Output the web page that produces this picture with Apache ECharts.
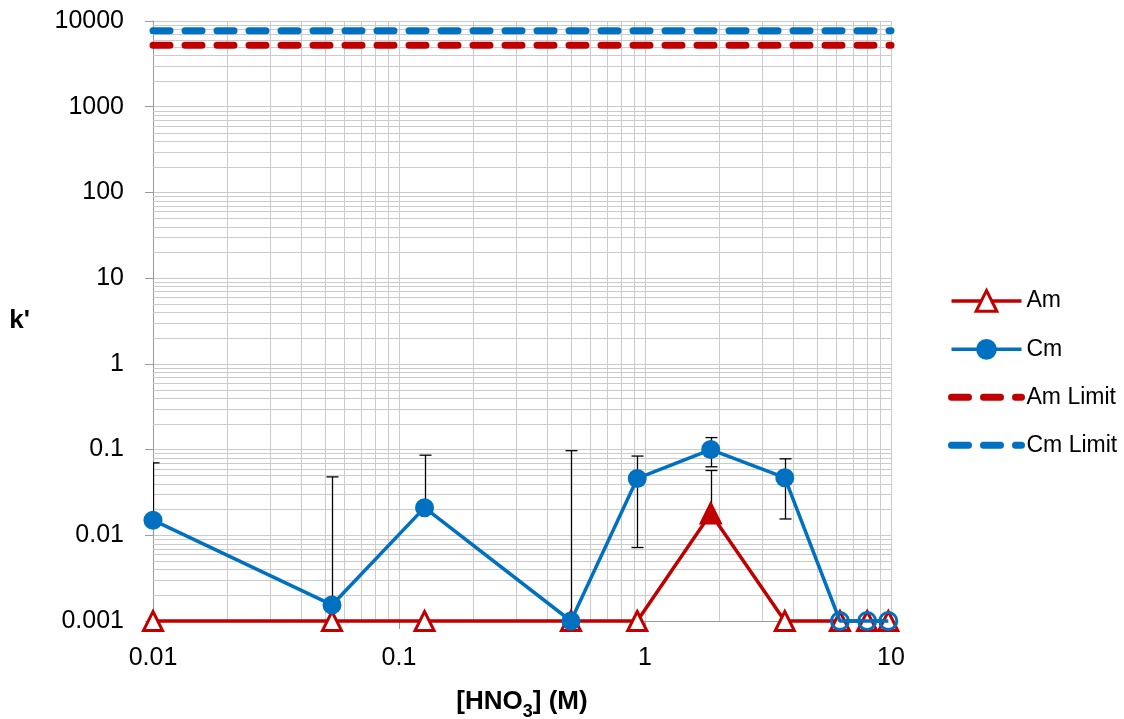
<!DOCTYPE html>
<html>
<head>
<meta charset="utf-8">
<script src="https://cdn.jsdelivr.net/npm/echarts@6/dist/echarts.min.js"></script>
<style>
  html, body { margin: 0; padding: 0; background: #fff; }
  #chart { width: 1124px; height: 719px; }
</style>
</head>
<body>
<div id="chart"></div>
<script>
// Nitric acid concentration of each measurement (M)
const hno3 = [0.01, 0.0534, 0.127, 0.5, 0.93, 1.85, 3.7, 6.2, 8.0, 9.75];
// Capacity factor k' for americium and curium
const amK = [0.001, 0.001, 0.001, 0.001, 0.001, 0.018, 0.001, 0.001, 0.001, 0.001];
const cmK = [0.015, 0.00154, 0.021, 0.001, 0.046, 0.1, 0.047, 0.001, 0.001, 0.001];
// Error bar ends (null: no bar on that side)
const amLow  = [null, null, null, null, null, null, null, null, null, null];
const amHigh = [null, null, null, null, null, 0.057, null, null, null, null];
const cmLow  = [null, null, null, null, 0.0072, 0.063, 0.0155, null, null, null];
const cmHigh = [0.070, 0.048, 0.086, 0.097, 0.084, 0.138, 0.078, null, null, null];
// Marker variants: filled Am triangle, hollow Cm circles
const amSolid  = [false, false, false, false, false, true, false, false, false, false];
const cmHollow = [false, false, false, false, false, false, false, true, true, true];
// Upper k' limits
const amLimit = 5200;
const cmLimit = 7700;
const limitSpan = [0.01, 10];
// Tick labels
const xTickLabels = ['0.01', '0.1', '1', '10'];
const yTickLabels = ['0.001', '0.01', '0.1', '1', '10', '100', '1000', '10000'];

const RED = '#C00000';
const BLUE = '#0070C0';
const FONT = '"Liberation Sans", Arial, sans-serif';
const GRID_COLOR = '#cbcbcb';
const AXIS_COLOR = '#9a9a9a';
const LINE_W = 3.5;

// Minor log gridlines at 2..9 of every decade spanned by the tick labels
function minorLines(labels) {
  const out = [];
  for (let i = 0; i < labels.length - 1; i++) {
    const base = Number(labels[i]);
    for (let m = 2; m <= 9; m++) out.push(+(base * m).toPrecision(6));
  }
  return out;
}
const xMinor = minorLines(xTickLabels);
const yMinor = minorLines(yTickLabels);

function tickText(labels) {
  return function (v) {
    const hit = labels.find(t => Math.abs(Math.log10(Number(t)) - Math.log10(v)) < 1e-6);
    return hit === undefined ? '' : hit;
  };
}

function errorData(xs, vals, lows, highs) {
  const out = [];
  xs.forEach((x, i) => {
    if (lows[i] == null && highs[i] == null) return;
    out.push([x, vals[i], lows[i] == null ? vals[i] : lows[i], highs[i] == null ? vals[i] : highs[i]]);
  });
  return out;
}

function renderErrorBar(params, api) {
  const x = api.value(0), v = api.value(1), lo = api.value(2), hi = api.value(3);
  const top = api.coord([x, hi]);
  const bot = api.coord([x, lo]);
  const cx = Math.round(top[0]) + 0.5;
  const half = 6;
  const style = { stroke: '#000', lineWidth: 1.3 };
  const children = [{ type: 'line', shape: { x1: cx, y1: top[1], x2: cx, y2: bot[1] }, style }];
  if (hi > v) children.push({ type: 'line', shape: { x1: cx - half, y1: top[1], x2: cx + half, y2: top[1] }, style });
  if (lo < v) children.push({ type: 'line', shape: { x1: cx - half, y1: bot[1], x2: cx + half, y2: bot[1] }, style });
  return { type: 'group', children };
}

function renderVLine(params, api) {
  const cs = params.coordSys;
  const p = api.coord([api.value(0), api.value(1)]);
  const x = Math.round(p[0]) + 0.5;
  return { type: 'line', shape: { x1: x, y1: cs.y, x2: x, y2: cs.y + cs.height },
           style: { stroke: GRID_COLOR, lineWidth: 1 } };
}
function renderHLine(params, api) {
  const cs = params.coordSys;
  const p = api.coord([api.value(0), api.value(1)]);
  const y = Math.round(p[1]) + 0.5;
  return { type: 'line', shape: { x1: cs.x, y1: y, x2: cs.x + cs.width, y2: y },
           style: { stroke: GRID_COLOR, lineWidth: 1 } };
}

const chart = echarts.init(document.getElementById('chart'), null, { renderer: 'canvas' });

const titleStyle = { fontFamily: FONT, fontSize: 26, fontWeight: 'bold', color: '#000' };

chart.setOption({
  animation: false,
  backgroundColor: '#fff',
  grid: { left: 153, right: 233, top: 21, bottom: 98, containLabel: false, outerBoundsMode: 'none' },
  xAxis: {
    type: 'log', logBase: 10, min: 0.01, max: 10,
    axisLine: { show: true, onZero: false, lineStyle: { color: AXIS_COLOR, width: 1 } },
    axisTick: { show: true, length: 8, lineStyle: { color: AXIS_COLOR } },
    axisLabel: { margin: 25, fontSize: 25, fontFamily: FONT, color: '#000', formatter: tickText(xTickLabels),
                 showMinLabel: true, showMaxLabel: true },
    splitLine: { show: true, lineStyle: { color: GRID_COLOR, width: 1 } },
    name: '{m|[HNO}{s|3}{m|] (M)}',
    nameLocation: 'middle',
    nameGap: 62,
    nameTextStyle: Object.assign({}, titleStyle, {
      rich: {
        m: Object.assign({}, titleStyle, { verticalAlign: 'middle' }),
        s: { fontFamily: FONT, fontSize: 18, fontWeight: 'bold', color: '#000',
             padding: [20, 0, 0, 0], verticalAlign: 'bottom' }
      }
    })
  },
  yAxis: {
    type: 'log', logBase: 10, min: 0.001, max: 10000,
    axisLine: { show: true, onZero: false, lineStyle: { color: AXIS_COLOR, width: 1 } },
    axisTick: { show: true, length: 8, lineStyle: { color: AXIS_COLOR } },
    axisLabel: { margin: 29, fontSize: 25, fontFamily: FONT, color: '#000', formatter: tickText(yTickLabels),
                 showMinLabel: true, showMaxLabel: true },
    splitLine: { show: true, lineStyle: { color: GRID_COLOR, width: 1 } },
    name: "k'",
    nameLocation: 'middle',
    nameRotate: 0,
    nameGap: 123,
    nameTextStyle: titleStyle
  },
  legend: {
    orient: 'vertical',
    left: 943, top: 284,
    itemWidth: 70, itemHeight: 26, itemGap: 25,
    selectedMode: false,
    textStyle: { fontFamily: FONT, fontSize: 23, color: '#000' },
    data: [
      { name: 'Am', lineStyle: { width: LINE_W }, itemStyle: { borderWidth: 3 } },
      { name: 'Cm', lineStyle: { width: LINE_W } },
      { name: 'Am Limit', lineStyle: { width: 7 }, itemStyle: { opacity: 0 } },
      { name: 'Cm Limit', lineStyle: { width: 7 }, itemStyle: { opacity: 0 } }
    ]
  },
  series: [
    { type: 'custom', silent: true, z: 1, clip: true, renderItem: renderVLine,
      data: xMinor.map(v => [v, yTickLabels[0]]) },
    { type: 'custom', silent: true, z: 1, clip: true, renderItem: renderHLine,
      data: yMinor.map(v => [xTickLabels[0], v]) },
    {
      name: 'Am Limit', type: 'line', z: 2, symbol: 'none', clip: true, color: RED,
      lineStyle: { color: RED, width: 7, type: [17, 15], cap: 'round' },
      data: limitSpan.map(x => [x, amLimit])
    },
    {
      name: 'Cm Limit', type: 'line', z: 2, symbol: 'none', clip: true, color: BLUE,
      lineStyle: { color: BLUE, width: 7, type: [17, 15], cap: 'round' },
      data: limitSpan.map(x => [x, cmLimit])
    },
    { type: 'custom', silent: true, z: 3, clip: true, renderItem: renderErrorBar,
      encode: { x: 0, y: [1, 2, 3] }, data: errorData(hno3, amK, amLow, amHigh) },
    { type: 'custom', silent: true, z: 3, clip: true, renderItem: renderErrorBar,
      encode: { x: 0, y: [1, 2, 3] }, data: errorData(hno3, cmK, cmLow, cmHigh) },
    {
      name: 'Am', type: 'line', z: 4, color: RED, symbol: 'triangle', symbolSize: 19,
      showAllSymbol: true, clip: false,
      lineStyle: { color: RED, width: LINE_W },
      itemStyle: { color: '#fff', borderColor: RED, borderWidth: 3 },
      data: hno3.map((x, i) => amSolid[i]
        ? { value: [x, amK[i]], itemStyle: { color: RED } }
        : { value: [x, amK[i]] })
    },
    {
      name: 'Cm', type: 'line', z: 5, color: BLUE, symbol: 'circle', symbolSize: 19,
      showAllSymbol: true, clip: false,
      lineStyle: { color: BLUE, width: LINE_W },
      itemStyle: { color: BLUE },
      data: hno3.map((x, i) => cmHollow[i]
        ? { value: [x, cmK[i]], symbolSize: 17,
            itemStyle: { color: 'rgba(255,255,255,0)', borderColor: BLUE, borderWidth: 3 } }
        : { value: [x, cmK[i]] })
    }
  ]
});
</script>
</body>
</html>
